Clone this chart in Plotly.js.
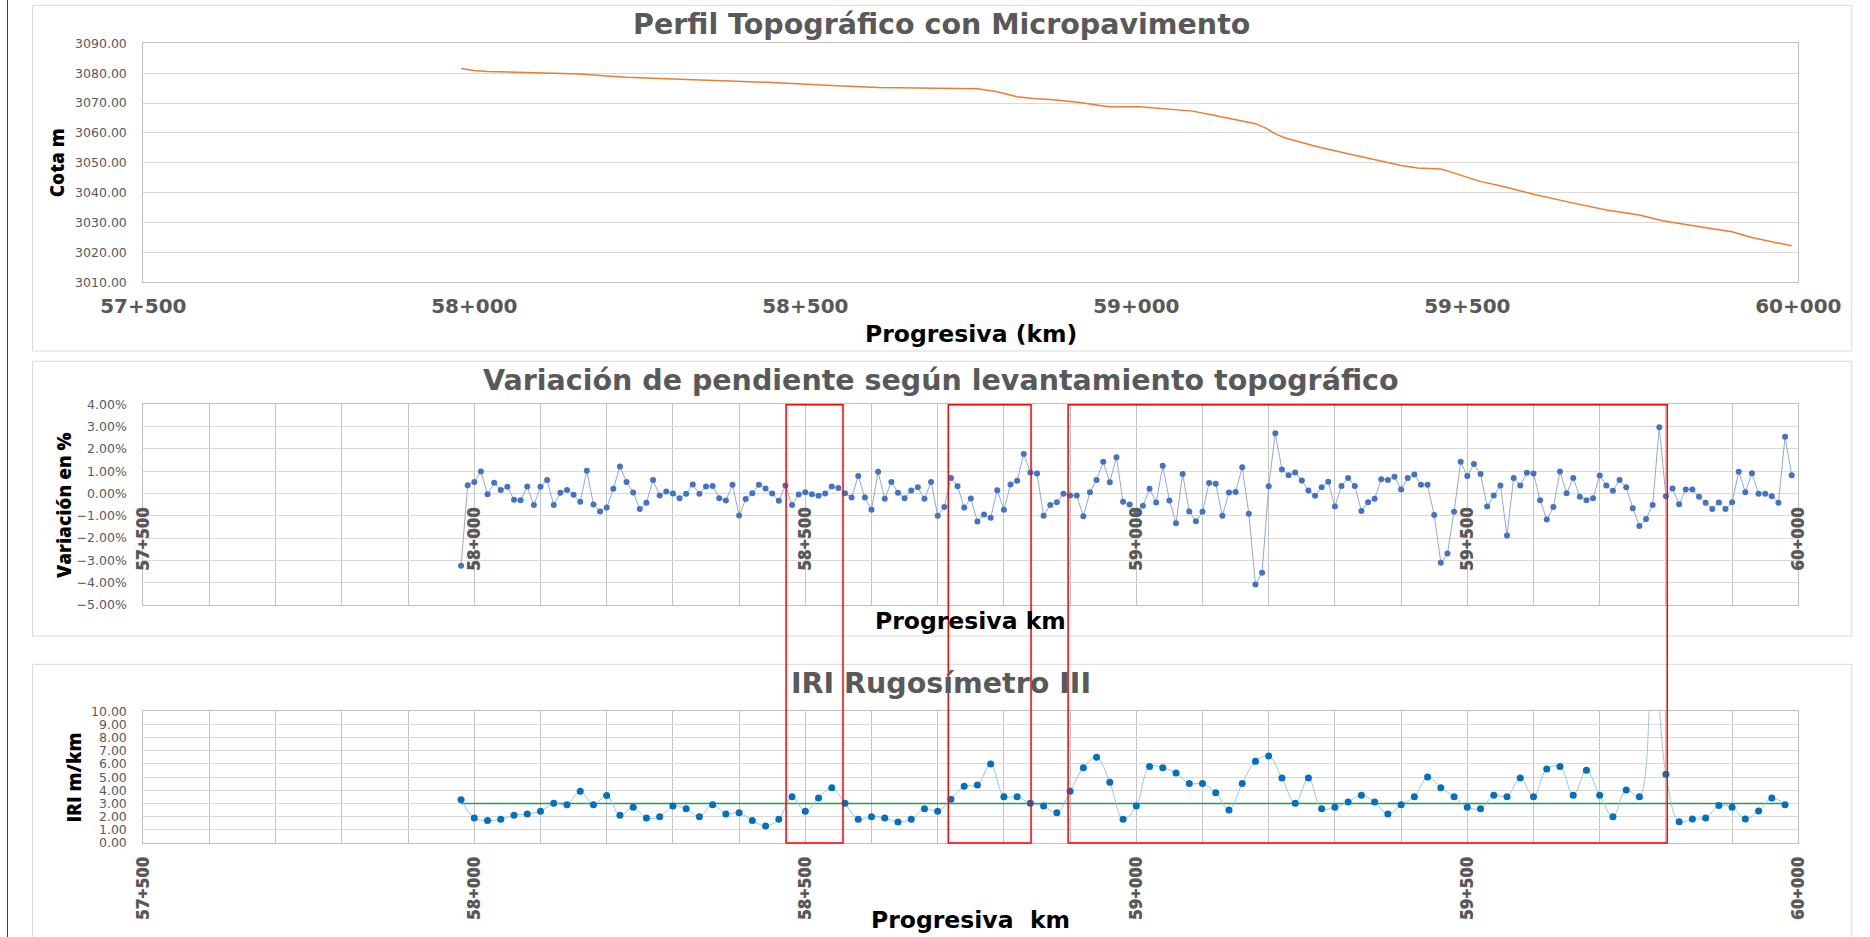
<!DOCTYPE html>
<html>
<head>
<meta charset="utf-8">
<script src="https://cdn.plot.ly/plotly-3.0.1.min.js"></script>
<style>html,body{margin:0;padding:0;background:#fff;}#chart{width:1870px;height:937px;}</style>
</head>
<body>
<div id="chart"></div>
<script>
// ---------------- DATA ----------------
const tickChainage = [57500, 58000, 58500, 59000, 59500, 60000];
const tickLabels = ["57+500", "58+000", "58+500", "59+000", "59+500", "60+000"];

// Topographic profile (chainage m, elevation m)
const profileChainage = [57980, 58000, 58020, 58090, 58160, 58190, 58230, 58310, 58390, 58450, 58540, 58610, 58760, 58790, 58820, 58845, 58875, 58915, 58945, 58960, 59005, 59045, 59085, 59115, 59145, 59180, 59195, 59210, 59225, 59245, 59275, 59320, 59350, 59380, 59400, 59425, 59460, 59470, 59500, 59520, 59550, 59600, 59650, 59710, 59760, 59795, 59870, 59900, 59930, 59990];
const profileElevation = [3081.6, 3080.9, 3080.6, 3080.2, 3079.7, 3079.2, 3078.6, 3078.0, 3077.5, 3076.9, 3075.9, 3075.2, 3074.8, 3073.8, 3072.1, 3071.5, 3071.1, 3070.2, 3069.2, 3068.8, 3068.8, 3068.0, 3067.3, 3066.0, 3064.6, 3063.1, 3061.7, 3059.7, 3058.3, 3057.0, 3055.3, 3053.0, 3051.5, 3049.9, 3049.1, 3048.3, 3047.9, 3047.3, 3045.1, 3043.7, 3042.3, 3039.5, 3037.0, 3034.2, 3032.5, 3030.6, 3027.9, 3026.9, 3025.0, 3022.2];

// Slope variation (%), every 10 m
const slopeChainage = [57980, 57990, 58000, 58010, 58020, 58030, 58040, 58050, 58060, 58070, 58080, 58090, 58100, 58110, 58120, 58130, 58140, 58150, 58160, 58170, 58180, 58190, 58200, 58210, 58220, 58230, 58240, 58250, 58260, 58270, 58280, 58290, 58300, 58310, 58320, 58330, 58340, 58350, 58360, 58370, 58380, 58390, 58400, 58410, 58420, 58430, 58440, 58450, 58460, 58470, 58480, 58490, 58500, 58510, 58520, 58530, 58540, 58550, 58560, 58570, 58580, 58590, 58600, 58610, 58620, 58630, 58640, 58650, 58660, 58670, 58680, 58690, 58700, 58710, 58720, 58730, 58740, 58750, 58760, 58770, 58780, 58790, 58800, 58810, 58820, 58830, 58840, 58850, 58860, 58870, 58880, 58890, 58900, 58910, 58920, 58930, 58940, 58950, 58960, 58970, 58980, 58990, 59000, 59010, 59020, 59030, 59040, 59050, 59060, 59070, 59080, 59090, 59100, 59110, 59120, 59130, 59140, 59150, 59160, 59170, 59180, 59190, 59200, 59210, 59220, 59230, 59240, 59250, 59260, 59270, 59280, 59290, 59300, 59310, 59320, 59330, 59340, 59350, 59360, 59370, 59380, 59390, 59400, 59410, 59420, 59430, 59440, 59450, 59460, 59470, 59480, 59490, 59500, 59510, 59520, 59530, 59540, 59550, 59560, 59570, 59580, 59590, 59600, 59610, 59620, 59630, 59640, 59650, 59660, 59670, 59680, 59690, 59700, 59710, 59720, 59730, 59740, 59750, 59760, 59770, 59780, 59790, 59800, 59810, 59820, 59830, 59840, 59850, 59860, 59870, 59880, 59890, 59900, 59910, 59920, 59930, 59940, 59950, 59960, 59970, 59980, 59990];
const slopeVariation = [-3.24, 0.37, 0.52, 0.99, -0.03, 0.48, 0.16, 0.30, -0.28, -0.30, 0.31, -0.52, 0.30, 0.60, -0.52, 0.03, 0.16, -0.06, -0.37, 1.02, -0.49, -0.81, -0.63, 0.21, 1.21, 0.52, 0.04, -0.69, -0.42, 0.60, -0.09, 0.09, 0.00, -0.21, -0.01, 0.40, -0.01, 0.31, 0.34, -0.21, -0.31, 0.39, -0.99, -0.25, 0.01, 0.39, 0.22, 0.00, -0.33, 0.36, -0.52, -0.04, 0.06, -0.03, -0.10, 0.00, 0.31, 0.25, 0.01, -0.18, 0.79, -0.18, -0.73, 0.97, -0.24, 0.52, 0.03, -0.21, 0.13, 0.28, -0.24, 0.52, -1.00, -0.60, 0.69, 0.33, -0.63, -0.22, -1.26, -0.94, -1.09, 0.15, -0.73, 0.40, 0.57, 1.77, 0.94, 0.90, -1.00, -0.52, -0.39, -0.01, -0.09, -0.09, -1.02, 0.06, 0.61, 1.42, 0.51, 1.63, -0.37, -0.49, -0.84, -0.55, 0.21, -0.40, 1.24, -0.31, -1.33, 0.88, -0.81, -1.24, -0.82, 0.47, 0.44, -1.00, 0.04, 0.07, 1.18, -0.91, -4.08, -3.55, 0.33, 2.70, 1.08, 0.82, 0.94, 0.58, 0.13, -0.10, 0.28, 0.53, -0.58, 0.34, 0.69, 0.34, -0.79, -0.39, -0.24, 0.64, 0.61, 0.75, 0.18, 0.69, 0.85, 0.39, 0.39, -0.96, -3.10, -2.69, -0.82, 1.42, 0.78, 1.32, 0.88, -0.58, -0.09, 0.36, -1.88, 0.69, 0.36, 0.93, 0.90, -0.30, -1.17, -0.61, 0.99, 0.01, 0.69, -0.15, -0.30, -0.21, 0.81, 0.36, 0.12, 0.60, 0.28, -0.66, -1.46, -1.14, -0.52, 2.97, -0.12, 0.22, -0.48, 0.18, 0.18, -0.15, -0.42, -0.69, -0.40, -0.69, -0.39, 0.97, 0.06, 0.91, -0.01, -0.01, -0.12, -0.42, 2.54, 0.82];

// IRI (m/km), every 20 m
const iriChainage = [57980, 58000, 58020, 58040, 58060, 58080, 58100, 58120, 58140, 58160, 58180, 58200, 58220, 58240, 58260, 58280, 58300, 58320, 58340, 58360, 58380, 58400, 58420, 58440, 58460, 58480, 58500, 58520, 58540, 58560, 58580, 58600, 58620, 58640, 58660, 58680, 58700, 58720, 58740, 58760, 58780, 58800, 58820, 58840, 58860, 58880, 58900, 58920, 58940, 58960, 58980, 59000, 59020, 59040, 59060, 59080, 59100, 59120, 59140, 59160, 59180, 59200, 59220, 59240, 59260, 59280, 59300, 59320, 59340, 59360, 59380, 59400, 59420, 59440, 59460, 59480, 59500, 59520, 59540, 59560, 59580, 59600, 59620, 59640, 59660, 59680, 59700, 59720, 59740, 59760, 59780, 59800, 59820, 59840, 59860, 59880, 59900, 59920, 59940, 59960, 59980];
const iriValues = [3.29, 1.90, 1.70, 1.80, 2.10, 2.20, 2.41, 3.01, 2.91, 3.92, 2.91, 3.61, 2.10, 2.71, 1.90, 2.00, 2.81, 2.61, 2.00, 2.91, 2.20, 2.30, 1.70, 1.29, 1.80, 3.52, 2.41, 3.42, 4.20, 3.01, 1.80, 2.00, 1.90, 1.59, 1.80, 2.61, 2.41, 3.32, 4.30, 4.41, 6.00, 3.52, 3.52, 3.01, 2.81, 2.30, 3.92, 5.72, 6.51, 4.61, 1.80, 2.81, 5.80, 5.72, 5.32, 4.51, 4.51, 3.82, 2.51, 4.51, 6.20, 6.61, 4.94, 3.01, 4.94, 2.61, 2.71, 3.11, 3.62, 3.11, 2.20, 2.91, 3.52, 5.01, 4.20, 3.52, 2.71, 2.61, 3.62, 3.52, 4.94, 3.52, 5.62, 5.80, 3.62, 5.52, 3.62, 2.00, 4.03, 3.52, 15.5, 5.22, 1.62, 1.82, 1.90, 2.84, 2.71, 1.82, 2.43, 3.42, 2.91];
const iriLimit = 3.0;

// Highlighted sections (chainage start, end)
const highlightStart = [58471, 58716, 58897];
const highlightEnd = [58557, 58841, 59802];

// ---------------- LAYOUT HELPERS ----------------
const W = 1870, H = 937;
const px = v => v / W;
const py = v => 1 - v / H;
const XR = [57500, 60000];
const XD = [px(143.3), px(1798.3)];
const GRID = '#d9d9d9', VGRID = '#c4c4c4', BORDER = '#bfbfbf', TICKC = '#595959';
const yTickFont = {family: 'DejaVu Sans', size: 12.5, color: TICKC};
const xTickFont = {family: 'DejaVu Sans', size: 20, color: TICKC, weight: 'bold'};
const rotTickFont = {family: 'Open Sans', size: 18, color: TICKC, weight: 800};

const traces = [
  {x: profileChainage, y: profileElevation, xaxis: 'x', yaxis: 'y', type: 'scatter', mode: 'lines',
   line: {color: '#ED7D31', width: 1.5}, hoverinfo: 'skip'},
  {x: slopeChainage, y: slopeVariation, xaxis: 'x2', yaxis: 'y2', type: 'scatter', mode: 'lines+markers',
   line: {color: '#8EA9DB', width: 1}, marker: {color: '#4472C4', size: 6}},
  {x: [iriChainage[0], iriChainage[iriChainage.length - 1]], y: [iriLimit, iriLimit], xaxis: 'x3', yaxis: 'y3',
   type: 'scatter', mode: 'lines', line: {color: '#1FA34A', width: 1.6}},
  {x: iriChainage, y: iriValues, xaxis: 'x3', yaxis: 'y3', type: 'scatter', mode: 'lines+markers',
   line: {color: '#9DC3E6', width: 1, shape: 'spline', smoothing: 1}, marker: {color: '#0070C0', size: 7}},
  {x: [], y: [], xaxis: 'x4', yaxis: 'y2', type: 'scatter', mode: 'markers', hoverinfo: 'skip'},
  {x: [], y: [], xaxis: 'x5', yaxis: 'y3', type: 'scatter', mode: 'markers', hoverinfo: 'skip'}
];

const boxAxisX = {range: XR, domain: XD, zeroline: false, showline: true, mirror: true, linecolor: BORDER, linewidth: 1, ticks: ''};
const boxAxisY = {zeroline: false, showline: true, mirror: true, linecolor: BORDER, linewidth: 1, ticks: '',
  gridcolor: GRID, gridwidth: 1, tickfont: yTickFont, ticklabelstandoff: 13};

const layout = {
  width: W, height: H, margin: {l: 0, r: 0, t: 0, b: 0},
  paper_bgcolor: '#ffffff', plot_bgcolor: 'rgba(0,0,0,0)', showlegend: false,
  xaxis: Object.assign({}, boxAxisX, {anchor: 'y', showgrid: false, tickmode: 'array', tickvals: tickChainage,
    ticktext: tickLabels, tickfont: xTickFont, ticklabelstandoff: 6}),
  yaxis: Object.assign({}, boxAxisY, {anchor: 'x', domain: [py(282.3), py(43.3)], range: [3010, 3090], dtick: 10, tick0: 3010, tickformat: '.2f'}),
  xaxis2: Object.assign({}, boxAxisX, {anchor: 'y2', showgrid: true, gridcolor: VGRID, gridwidth: 1, tick0: 57500, dtick: 100, showticklabels: false}),
  yaxis2: Object.assign({}, boxAxisY, {anchor: 'x2', domain: [py(605), py(404.3)], range: [-5, 4], dtick: 1, tick0: 0, tickformat: '.2f', ticksuffix: '%'}),
  xaxis3: Object.assign({}, boxAxisX, {anchor: 'y3', showgrid: true, gridcolor: VGRID, gridwidth: 1, tick0: 57500, dtick: 100, showticklabels: false}),
  yaxis3: Object.assign({}, boxAxisY, {anchor: 'x3', domain: [py(843), py(711.3)], range: [0, 10], dtick: 1, tick0: 0, tickformat: '.2f'}),
  xaxis4: {overlaying: 'x2', anchor: 'free', position: py(493.6), range: XR, showgrid: false, zeroline: false, showline: false,
    ticks: '', tickmode: 'array', tickvals: tickChainage, ticktext: tickLabels, tickangle: -90, tickfont: rotTickFont, ticklabelstandoff: 9},
  xaxis5: {overlaying: 'x3', anchor: 'y3', range: XR, showgrid: false, zeroline: false, showline: false,
    ticks: '', tickmode: 'array', tickvals: tickChainage, ticktext: tickLabels, tickangle: -90, tickfont: rotTickFont, ticklabelstandoff: 9},
  shapes: [],
  annotations: []
};

// Chart area borders
[[5.3, 351], [361.3, 636], [664.3, 960]].forEach(([t, b]) => {
  layout.shapes.push({type: 'rect', xref: 'paper', yref: 'paper', x0: px(32.6), x1: px(1851.7), y0: py(b), y1: py(t),
    line: {color: '#d9d9d9', width: 1}, fillcolor: 'rgba(0,0,0,0)', layer: 'below'});
});
// Page margin line
layout.shapes.push({type: 'line', xref: 'paper', yref: 'paper', x0: px(7.5), x1: px(7.5), y0: 0, y1: 1, line: {color: '#2828d0', width: 1}});
// Highlighted sections
highlightStart.forEach((s, i) => {
  layout.shapes.push({type: 'rect', xref: 'x', yref: 'paper', x0: s, x1: highlightEnd[i], y0: py(843), y1: py(404.8),
    line: {color: '#ff0000', width: 1.5}, fillcolor: 'rgba(0,0,0,0)', layer: 'above'});
});

function ann(text, x, y, font, angle) {
  layout.annotations.push({text: text, xref: 'paper', yref: 'paper', x: px(x), y: py(y), xanchor: 'center', yanchor: 'middle',
    showarrow: false, textangle: angle || 0, font: font});
}
const titleFont = {family: 'DejaVu Sans', size: 28.5, color: '#595959', weight: 'bold'};
const axTitleFont = {family: 'DejaVu Sans', size: 23.5, color: '#000000', weight: 'bold'};
const yTitleFont = {family: 'Open Sans', size: 19, color: '#000000', weight: 800};
ann('Perfil Topográfico con Micropavimento', 941.5, 24, titleFont);
ann('Variación de pendiente según levantamiento topográfico', 941.5, 380, titleFont);
ann('IRI Rugosímetro III', 941.5, 683, titleFont);
ann('Progresiva (km)', 970.8, 334, axTitleFont);
ann('Progresiva km', 970.8, 621, axTitleFont);
ann('Progresiva \u00a0km', 970.8, 920, axTitleFont);
ann('Cota m', 57, 163.3, yTitleFont, -90);
ann('Variación en %', 64, 505, yTitleFont, -90);
ann('IRI m/km', 73, 777.5, yTitleFont, -90);

Plotly.newPlot('chart', traces, layout, {staticPlot: true, displayModeBar: false});
</script>
</body>
</html>
